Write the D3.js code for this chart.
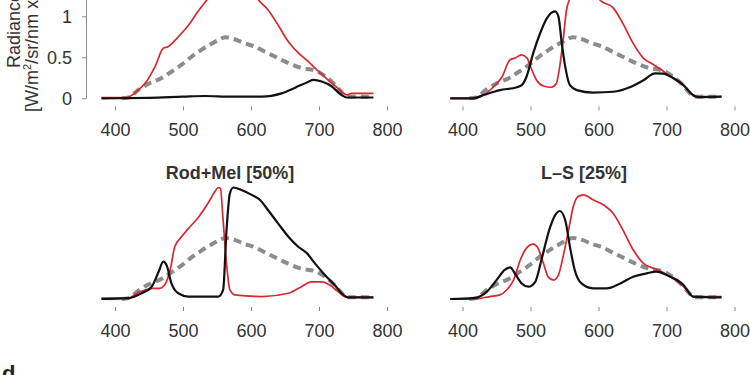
<!DOCTYPE html>
<html>
<head>
<meta charset="utf-8">
<script src="https://cdn.jsdelivr.net/npm/d3@7"></script>
<style>
  body { margin: 0; background: #fff; }
  svg text { font-family: "Liberation Sans", Arial, Helvetica, sans-serif; }
</style>
</head>
<body>
<div id="content"></div>
<script>
// wavelength [nm], radiance [W/m2/sr/nm x ...]
const xTicks = [400, 500, 600, 700, 800];
const yTicks = [0, 0.5, 1];

// grey dashed reference spectrum (same in every panel)
const reference = [[410,0.0],[420,0.01],[434,0.10],[450,0.18],[468,0.245],[484,0.33],[498,0.41],[513,0.51],[527,0.59],[541,0.66],[552,0.71],[562,0.745],[576,0.72],[591,0.67],[606,0.63],[620,0.57],[635,0.51],[655,0.43],[674,0.37],[694,0.34],[709,0.27],[723,0.17],[736,0.05],[743,0.02],[760,0.02],[780,0.02]];

// top-left panel
const tlRed = [[380,0.01],[417,0.01],[434,0.10],[444,0.18],[459,0.39],[471,0.61],[478,0.63],[493,0.75],[508,0.89],[522,1.06],[535,1.2],[555,1.45],[573,1.55],[592,1.45],[611,1.2],[625,1.08],[640,0.89],[655,0.69],[670,0.55],[684,0.45],[699,0.33],[714,0.22],[728,0.12],[741,0.04],[748,0.06],[780,0.06]];
const tlBlack = [[380,0],[450,0.005],[500,0.02],[532,0.028],[570,0.02],[616,0.02],[645,0.06],[665,0.13],[684,0.20],[692,0.225],[704,0.205],[718,0.15],[733,0.04],[741,0.01],[780,0.01]];

// top-right panel
const trRed = [[382,0],[416,0],[431,0.04],[445,0.135],[458,0.26],[470,0.47],[477,0.49],[487,0.53],[495,0.49],[502,0.345],[509,0.22],[519,0.15],[531,0.135],[538,0.18],[543,0.39],[548,0.71],[553,1.08],[557,1.2],[565,1.45],[574,1.55],[587,1.42],[602,1.2],[622,1.1],[636,0.91],[651,0.67],[666,0.49],[681,0.41],[693,0.345],[705,0.27],[720,0.20],[734,0.08],[742,0.02],[781,0.02]];
const trBlack = [[382,0],[416,0],[431,0.04],[455,0.10],[480,0.135],[487,0.16],[494,0.26],[504,0.55],[514,0.79],[524,0.975],[536,1.06],[541,1.0],[546,0.67],[551,0.39],[558,0.16],[568,0.10],[592,0.07],[622,0.08],[646,0.135],[666,0.22],[683,0.305],[695,0.30],[710,0.245],[725,0.16],[739,0.04],[747,0.015],[781,0.02]];

// bottom-left panel: Rod+Mel [50%]
const blRed = [[380,0.01],[420,0.01],[432,0.07],[444,0.11],[456,0.13],[466,0.13],[473,0.17],[481,0.35],[488,0.64],[496,0.74],[508,0.86],[523,1.0],[537,1.17],[547,1.31],[552,1.36],[555,1.35],[559,0.96],[564,0.43],[569,0.11],[576,0.05],[616,0.03],[655,0.07],[674,0.15],[689,0.21],[704,0.21],[716,0.17],[728,0.09],[741,0.02],[780,0.02]];
const blBlack = [[380,0],[420,0.01],[439,0.07],[454,0.15],[464,0.33],[471,0.455],[476,0.41],[483,0.19],[493,0.07],[508,0.03],[552,0.03],[559,0.11],[564,0.84],[569,1.29],[574,1.36],[586,1.33],[601,1.27],[613,1.21],[625,1.085],[640,0.92],[655,0.76],[669,0.64],[682,0.56],[694,0.435],[709,0.29],[723,0.17],[736,0.05],[743,0.02],[780,0.02]];

// bottom-right panel: L–S [25%]
const brRed = [[382,0],[416,0],[440,0.03],[455,0.05],[465,0.11],[475,0.23],[485,0.475],[494,0.62],[504,0.67],[511,0.62],[519,0.435],[526,0.27],[534,0.23],[541,0.29],[548,0.52],[556,0.84],[563,1.13],[570,1.25],[578,1.27],[592,1.21],[607,1.15],[622,1.04],[636,0.84],[651,0.6],[666,0.435],[681,0.375],[693,0.333],[705,0.27],[720,0.19],[732,0.09],[739,0.03],[781,0.03]];
const brBlack = [[382,0],[416,0.01],[436,0.09],[450,0.23],[462,0.354],[470,0.386],[477,0.313],[487,0.19],[497,0.15],[507,0.21],[516,0.475],[529,0.88],[538,1.044],[543,1.073],[551,0.963],[558,0.638],[565,0.354],[575,0.19],[592,0.13],[612,0.13],[632,0.19],[651,0.272],[671,0.313],[685,0.333],[700,0.293],[715,0.232],[725,0.17],[739,0.03],[781,0.02]];

const titles = ["", "", "Rod+Mel [50%]", "L\u2013S [25%]"];

//////////////////// layout
const W = 750, H = 375;
const panels = [
    { x0:115,   x1:387,   zero:98.3, red:tlRed, black:tlBlack, yAxis:true,  title:titles[0], tx:230 },
    { x0:462.5, x1:734.5, zero:98.3, red:trRed, black:trBlack, yAxis:false, title:titles[1], tx:584 },
    { x0:115,   x1:387,   zero:299,  red:blRed, black:blBlack, yAxis:false, title:titles[2], tx:230 },
    { x0:462.5, x1:734.5, zero:299,  red:brRed, black:brBlack, yAxis:false, title:titles[3], tx:584 }
];
const unit = 82;   // px per radiance unit

const svg = d3.select("#content")
    .append("svg")
    .attr("width",  W)
    .attr("height", H);

svg.append("rect")
    .attr("width", W)
    .attr("height", H)
    .attr("fill", "#fff");

panels.forEach(p => {
    const x = d3.scaleLinear().domain([400, 800]).range([p.x0, p.x1]);
    const y = d3.scaleLinear().domain([0, 2]).range([p.zero, p.zero - 2*unit]);

    const line = d3.line()
        .x(d => x(d[0]))
        .y(d => y(d[1]))
        .curve(d3.curveMonotoneX);

    const g = svg.append("g");

    g.append("path")
        .attr("d", line(reference))
        .attr("fill", "none")
        .attr("stroke", "#8c8c8c")
        .attr("stroke-width", 4)
        .attr("stroke-dasharray", "8,5");

    g.append("path")
        .attr("d", line(p.red))
        .attr("fill", "none")
        .attr("stroke", "#d8282f")
        .attr("stroke-width", 1.7)
        .attr("stroke-linejoin", "round");

    g.append("path")
        .attr("d", line(p.black))
        .attr("fill", "none")
        .attr("stroke", "#111")
        .attr("stroke-width", 2.2)
        .attr("stroke-linejoin", "round");

    // x axis: ticks only, no baseline
    const xa = svg.append("g")
        .attr("transform", "translate(0," + (p.zero + 8) + ")")
        .call(d3.axisBottom(x).tickValues(xTicks).tickSize(4).tickPadding(13));
    xa.select(".domain").remove();
    xa.selectAll(".tick line").attr("stroke", "#888");
    xa.selectAll(".tick text")
        .attr("font-size", 18)
        .attr("font-family", "Liberation Sans, Arial, sans-serif")
        .attr("fill", "#333");

    if (p.yAxis) {
        const ya = svg.append("g")
            .attr("transform", "translate(" + 86 + ",0)")
            .call(d3.axisLeft(y).tickValues(yTicks).tickSize(4).tickSizeOuter(0).tickPadding(10).tickFormat(d => d));
        ya.select(".domain").attr("stroke", "#888");
        ya.selectAll(".tick line").attr("stroke", "#888");
        ya.selectAll(".tick text")
            .attr("font-size", 18)
            .attr("font-family", "Liberation Sans, Arial, sans-serif")
            .attr("fill", "#333");
    }

    if (p.title) {
        svg.append("text")
            .attr("x", p.tx)
            .attr("y", p.zero - 120)
            .attr("text-anchor", "middle")
            .attr("font-size", 18)
            .attr("font-weight", "bold")
            .attr("fill", "#333")
            .text(p.title);
    }
});

// y axis title (two rotated lines, partly cut by the top edge)
svg.append("text")
    .attr("transform", "translate(20,68) rotate(-90)")
    .attr("font-size", 18)
    .attr("fill", "#333")
    .text("Radiance");

const t2 = svg.append("text")
    .attr("transform", "translate(38,112) rotate(-90)")
    .attr("font-size", 18)
    .attr("fill", "#333");
t2.append("tspan").text("[W/m");
t2.append("tspan").attr("font-size", 11).attr("dy", -7).text("2");
t2.append("tspan").attr("dy", 7).text("/sr/nm x 10");
t2.append("tspan").attr("font-size", 11).attr("dy", -7).text("\u22123");
t2.append("tspan").attr("dy", 7).text("]");

// next panel letter, cut by the bottom edge
svg.append("text")
    .attr("x", 2)
    .attr("y", 381)
    .attr("font-size", 22)
    .attr("font-weight", "bold")
    .attr("fill", "#222")
    .text("d");
</script>
</body>
</html>
